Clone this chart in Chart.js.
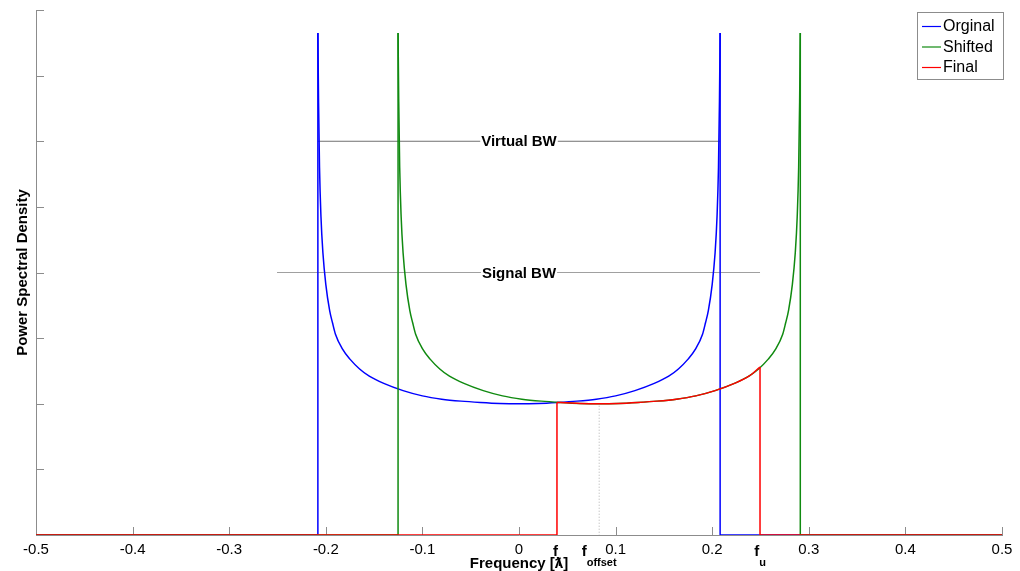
<!DOCTYPE html>
<html>
<head>
<meta charset="utf-8">
<title>Power Spectral Density</title>
<script src="https://cdn.jsdelivr.net/npm/chart.js"></script>
<style>
    body { margin: 0; background: #ffffff; }
    canvas { display: block; }
</style>
</head>
<body>
<canvas id="psdChart" width="1020" height="571"></canvas>
<script>
// Original spectrum (blue), band edge to band edge
var freqOrig = [-0.2082, -0.2075, -0.2065, -0.205, -0.203, -0.200, -0.196, -0.193, -0.190, -0.183, -0.175, -0.165, -0.155, -0.140, -0.120, -0.100, -0.080, -0.060, -0.040, -0.020, 0,
    0.020, 0.040, 0.060, 0.080, 0.100, 0.120, 0.140, 0.155, 0.165, 0.175, 0.183, 0.190, 0.193, 0.196, 0.200, 0.203, 0.205, 0.2065, 0.2075, 0.2082];
var psdOrig = [7.65, 6.60, 5.60, 4.85, 4.30, 3.82, 3.42, 3.23, 3.06, 2.84, 2.68, 2.53, 2.42, 2.31, 2.20, 2.12, 2.07, 2.04, 2.02, 2.005, 2.00,
    2.005, 2.02, 2.04, 2.07, 2.12, 2.20, 2.31, 2.42, 2.53, 2.68, 2.84, 3.06, 3.23, 3.42, 3.82, 4.30, 4.85, 5.60, 6.60, 7.65];

// Shifted spectrum (green)
var freqShift = [-0.1252, -0.1245, -0.1235, -0.122, -0.120, -0.117, -0.113, -0.110, -0.107, -0.100, -0.092, -0.082, -0.072, -0.057, -0.037, -0.017, 0.003, 0.023, 0.043, 0.063, 0.083,
    0.103, 0.123, 0.143, 0.163, 0.183, 0.203, 0.223, 0.238, 0.248, 0.258, 0.266, 0.273, 0.276, 0.279, 0.283, 0.286, 0.288, 0.2895, 0.2905, 0.2912];
var psdShift = [7.65, 6.60, 5.60, 4.85, 4.30, 3.82, 3.42, 3.23, 3.06, 2.84, 2.68, 2.53, 2.42, 2.31, 2.20, 2.12, 2.07, 2.04, 2.02, 2.005, 2.00,
    2.005, 2.02, 2.04, 2.07, 2.12, 2.20, 2.31, 2.42, 2.53, 2.68, 2.84, 3.06, 3.23, 3.42, 3.82, 4.30, 4.85, 5.60, 6.60, 7.65];

// Final (filtered) spectrum (red), f_l to f_u
var freqFinal = [0.0393, 0.043, 0.063, 0.083, 0.103, 0.123, 0.143, 0.163, 0.183, 0.203, 0.223, 0.238, 0.2495];
var psdFinal = [2.02, 2.02, 2.005, 2.00, 2.005, 2.02, 2.04, 2.07, 2.12, 2.20, 2.31, 2.42, 2.56];

var seriesNames = ['Orginal', 'Shifted', 'Final'];
var seriesColors = ['#0000ff', '#108a10', '#ff0000'];

// Bandwidth markers
var virtualBwFreq = [-0.2082, 0.2082];
var virtualBwPsd = [6, 6];
var signalBwFreq = [-0.2505, 0.2495];
var signalBwPsd = [4, 4];
var offsetFreq = [0.083, 0.083];
var offsetPsd = [1.97, 0];

// Frequency marks under the axis
var markNames = ['l', 'offset', 'u'];
var markFreqs = [0.0393, 0.083, 0.2495];

var FONT = '"Liberation Sans", Arial, Helvetica, sans-serif';
var X_MIN = -0.5, X_MAX = 0.5;

// Zip x and y arrays into points
function toPoints(xs, ys) {
    return xs.map(function (v, i) {
        return { x: v, y: ys[i] };
    });
}

// Zero baseline plus the two vertical band edges of a series
function framePoints(xs, ys) {
    var n = xs.length - 1;
    return [
        { x: X_MIN, y: 0 }, { x: xs[0], y: 0 }, { x: xs[0], y: ys[0] },
        { x: xs[0], y: null },
        { x: xs[n], y: ys[n] }, { x: xs[n], y: 0 }, { x: X_MAX, y: 0 }
    ];
}

function lineSet(label, data, color, order, extra) {
    var ds = {
        label: label,
        data: data,
        borderColor: color,
        borderWidth: 1.5,
        pointRadius: 0,
        tension: 0,
        fill: false,
        spanGaps: false,
        order: order
    };
    return Object.assign(ds, extra || {});
}

function seriesSets(i, xs, ys) {
    var order = 3 - i;
    return [
        lineSet(seriesNames[i], toPoints(xs, ys), seriesColors[i], order, { cubicInterpolationMode: 'monotone' }),
        lineSet(seriesNames[i] + ' edges', framePoints(xs, ys), seriesColors[i], order)
    ];
}

// Inner tick marks, labels and legend box
var decorPlugin = {
    id: 'decor',
    beforeDatasetsDraw: function (chart) {
        var ctx = chart.ctx, area = chart.chartArea;
        var xs = chart.scales.x, ys = chart.scales.y;
        ctx.save();
        ctx.strokeStyle = '#8c8c8c';
        ctx.lineWidth = 1;
        ctx.beginPath();
        xs.ticks.forEach(function (t) {
            var px = Math.round(xs.getPixelForValue(t.value)) + 0.5;
            ctx.moveTo(px, area.bottom);
            ctx.lineTo(px, area.bottom - 8);
        });
        ys.ticks.forEach(function (t) {
            if (t.value === 0) return;
            var py = Math.round(ys.getPixelForValue(t.value)) + 0.5;
            ctx.moveTo(area.left, py);
            ctx.lineTo(area.left + 8, py);
        });
        ctx.stroke();
        ctx.restore();
    },
    afterDatasetsDraw: function (chart) {
        var ctx = chart.ctx, area = chart.chartArea;
        var xs = chart.scales.x, ys = chart.scales.y;
        ctx.save();

        // BW labels sitting on their lines
        ctx.font = 'bold 15px ' + FONT;
        ctx.textBaseline = 'middle';
        ctx.textAlign = 'center';
        [['Virtual BW', virtualBwPsd[0]], ['Signal BW', signalBwPsd[0]]].forEach(function (b) {
            var cx = xs.getPixelForValue(0), cy = ys.getPixelForValue(b[1]);
            var w = ctx.measureText(b[0]).width;
            ctx.fillStyle = '#ffffff';
            ctx.fillRect(cx - w / 2 - 1, cy - 7, w + 2, 14);
            ctx.fillStyle = '#000000';
            ctx.fillText(b[0], cx, cy + 1);
        });

        // f_l, f_offset, f_u
        ctx.textAlign = 'left';
        markNames.forEach(function (name, i) {
            var px = xs.getPixelForValue(markFreqs[i]);
            ctx.font = 'bold 15px ' + FONT;
            var wf = ctx.measureText('f').width;
            ctx.font = 'bold 11px ' + FONT;
            var ws = ctx.measureText(name).width;
            var left = px - (wf + ws) / 2;
            ctx.fillStyle = '#000000';
            ctx.font = 'bold 15px ' + FONT;
            ctx.fillText('f', left, area.bottom + 17);
            ctx.font = 'bold 11px ' + FONT;
            ctx.fillText(name, left + wf, area.bottom + 28);
        });

        // legend box
        var bx = 917, by = 12, bw = 86, bh = 67;
        ctx.fillStyle = '#ffffff';
        ctx.fillRect(bx, by, bw, bh);
        ctx.strokeStyle = '#8c8c8c';
        ctx.lineWidth = 1;
        ctx.strokeRect(bx + 0.5, by + 0.5, bw, bh);
        ctx.font = '16px ' + FONT;
        seriesNames.forEach(function (name, i) {
            var ly = by + 14 + i * 20.5;
            ctx.strokeStyle = seriesColors[i];
            ctx.lineWidth = 1.2;
            ctx.beginPath();
            ctx.moveTo(bx + 5, ly + 0.5);
            ctx.lineTo(bx + 24, ly + 0.5);
            ctx.stroke();
            ctx.fillStyle = '#000000';
            ctx.fillText(name, bx + 26, ly + 1);
        });
        ctx.restore();
    }
};

function buildChart() {
    var ctx = document.getElementById('psdChart').getContext('2d');
    var datasets = []
        .concat(seriesSets(0, freqOrig, psdOrig))
        .concat(seriesSets(1, freqShift, psdShift))
        .concat(seriesSets(2, freqFinal, psdFinal))
        .concat([
            lineSet('Virtual BW', toPoints(virtualBwFreq, virtualBwPsd), '#707070', 6, { borderWidth: 1 }),
            lineSet('Signal BW', toPoints(signalBwFreq, signalBwPsd), '#a0a0a0', 6, { borderWidth: 1 }),
            lineSet('offset', toPoints(offsetFreq, offsetPsd), '#b0b0b0', 5, { borderWidth: 1, borderDash: [1, 2] })
        ]);

    return new Chart(ctx, {
        type: 'line',
        data: { datasets: datasets },
        options: {
            responsive: false,
            animation: false,
            devicePixelRatio: 1,
            layout: { padding: { top: 10, right: 18, left: 0, bottom: 0 } },
            plugins: {
                legend: { display: false },
                tooltip: { enabled: false }
            },
            scales: {
                x: {
                    type: 'linear',
                    min: X_MIN,
                    max: X_MAX,
                    afterFit: function (scale) { scale.height = 36; },
                    ticks: {
                        stepSize: 0.1,
                        padding: 6,
                        color: '#000000',
                        font: { family: FONT, size: 15 },
                        callback: function (value) {
                            return String(Math.round(value * 10) / 10);
                        }
                    },
                    grid: { drawOnChartArea: false, drawTicks: false },
                    border: { display: true, color: '#8c8c8c', width: 1 },
                    title: {
                        display: true,
                        text: 'Frequency [ƛ]',
                        color: '#000000',
                        font: { family: FONT, size: 15, weight: 'bold' },
                        padding: { top: 0, bottom: -2 }
                    }
                },
                y: {
                    min: 0,
                    max: 8,
                    afterFit: function (scale) { scale.width = 36; },
                    ticks: { display: false, stepSize: 1 },
                    grid: { drawOnChartArea: false, drawTicks: false },
                    border: { display: true, color: '#8c8c8c', width: 1 },
                    title: {
                        display: true,
                        text: 'Power Spectral Density',
                        color: '#000000',
                        font: { family: FONT, size: 15, weight: 'bold' },
                        padding: { top: 14, bottom: 0 }
                    }
                }
            }
        },
        plugins: [decorPlugin]
    });
}

buildChart();
</script>
</body>
</html>
